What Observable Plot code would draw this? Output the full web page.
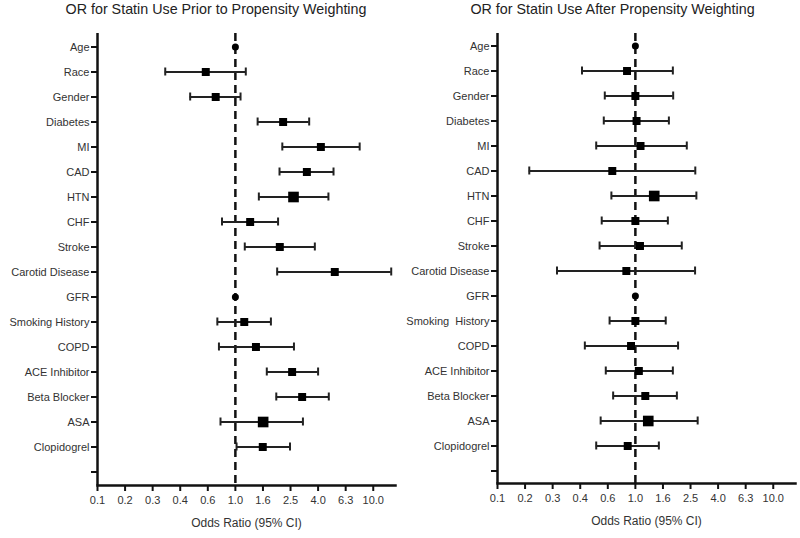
<!DOCTYPE html>
<html><head><meta charset="utf-8">
<script src="https://cdn.jsdelivr.net/npm/d3@7"></script>
<script src="https://cdn.jsdelivr.net/npm/@observablehq/plot@0.6"></script>
<style>
body{margin:0;background:#fff;font-family:"Liberation Sans",Arial,sans-serif;}
#wrap{display:flex;width:800px;height:538px;}
.panel{width:400px;height:538px;}
.title{height:20px;line-height:18px;font-size:14.3px;color:#222;text-align:center;box-sizing:border-box;white-space:nowrap;}
</style></head><body>
<div id="wrap"><div class="panel" id="p1"></div><div class="panel" id="p2"></div></div>
<script>
const categories = ["Age","Race","Gender","Diabetes","MI","CAD","HTN","CHF","Stroke","Carotid Disease","GFR","Smoking History","COPD","ACE Inhibitor","Beta Blocker","ASA","Clopidogrel"];
const categoriesAfter = ["Age","Race","Gender","Diabetes","MI","CAD","HTN","CHF","Stroke","Carotid Disease","GFR","Smoking  History","COPD","ACE Inhibitor","Beta Blocker","ASA","Clopidogrel"];

const priorOR   = [1.0, 0.61, 0.72, 2.22, 4.17, 3.30, 2.64, 1.28, 2.10, 5.26, 1.0, 1.16, 1.41, 2.58, 3.05, 1.59, 1.58];
const priorLow  = [null, 0.31, 0.47, 1.45, 2.19, 2.09, 1.48, 0.80, 1.17, 2.01, null, 0.74, 0.76, 1.69, 1.98, 0.78, 1.02];
const priorHigh = [null, 1.19, 1.09, 3.43, 7.97, 5.15, 4.73, 2.04, 3.77, 13.5, null, 1.81, 2.66, 3.98, 4.76, 3.09, 2.49];

const afterOR   = [1.0, 0.87, 1.0, 1.02, 1.09, 0.68, 1.37, 1.0, 1.08, 0.86, 1.0, 1.0, 0.93, 1.06, 1.18, 1.24, 0.88];
const afterLow  = [null, 0.41, 0.60, 0.59, 0.52, 0.17, 0.67, 0.57, 0.55, 0.27, null, 0.65, 0.43, 0.61, 0.69, 0.56, 0.52];
const afterHigh = [null, 1.87, 1.88, 1.75, 2.36, 2.72, 2.77, 1.72, 2.17, 2.71, null, 1.66, 2.04, 1.87, 2.00, 2.83, 1.48];

const tickValues = [0.1, 0.1585, 0.2512, 0.3981, 0.631, 1, 1.585, 2.512, 3.981, 6.31, 10];
const tickLabels = ["0.1","0.2","0.3","0.4","0.6","1.0","1.6","2.5","4.0","6.3","10.0"];
const largeMarkers = ["HTN","ASA"];

function panel(el, title, titlePad, cats, ors, lows, highs, mBottom) {
  const t = document.createElement("div");
  t.className = "title";
  t.style.paddingLeft = titlePad + "px";
  t.textContent = title;
  el.appendChild(t);
  const data = cats.map((c,i)=>({name:c, or:ors[i], lo:lows[i], hi:highs[i]}));
  const withCI = data.filter(d=>d.lo!=null);
  const noCI = data.filter(d=>d.lo==null);
  const big = withCI.filter(d=>largeMarkers.includes(d.name.trim()));
  const small = withCI.filter(d=>!largeMarkers.includes(d.name.trim()));
  const ink = "#111";
  const plot = Plot.plot({
    width:400, height:518, marginLeft:97, marginRight:5, marginTop:13, marginBottom:mBottom,
    style:{fontFamily:'"Liberation Sans",Arial,sans-serif', fontSize:"11px", color:"#333", background:"white"},
    x:{type:"log", domain:[0.1,14.5]},
    y:{type:"band", domain:[...cats, ""], padding:0},
    marks:[
      Plot.ruleX([1], {stroke:ink, strokeWidth:2.5, strokeDasharray:"8,5"}),
      Plot.ruleY(withCI, {y:"name", x1:"lo", x2:"hi", stroke:"#222", strokeWidth:2}),
      Plot.tickX(withCI, {y:"name", x:"lo", stroke:"#222", strokeWidth:2, insetTop:8.5, insetBottom:8.5}),
      Plot.tickX(withCI, {y:"name", x:"hi", stroke:"#222", strokeWidth:2, insetTop:8.5, insetBottom:8.5}),
      Plot.dot(small, {y:"name", x:"or", symbol:"square", fill:"#000", r:4.5}),
      Plot.dot(big, {y:"name", x:"or", symbol:"square", fill:"#000", r:6}),
      Plot.dot(noCI, {y:"name", x:"or", symbol:"circle", fill:"#000", r:3.5}),
      Plot.axisY({tickSize:6, tickPadding:2, label:null, strokeWidth:2, stroke:ink, fill:"#333"}),
      Plot.axisX({ticks:tickValues, tickSize:6, strokeWidth:2, stroke:ink, fill:"none", label:null}),
      Plot.text(tickValues, {x:d=>d, text:(d,i)=>tickLabels[i], frameAnchor:"bottom", dy:18, fill:"#333"}),
      Plot.text(["Odds Ratio (95% CI)"], {frameAnchor:"bottom", dy:41, fontSize:12, fill:"#333"}),
      Plot.ruleX([0.1], {stroke:ink, strokeWidth:2.5}),
      Plot.frame({anchor:"bottom", stroke:ink, strokeWidth:2.5})
    ]
  });
  el.appendChild(plot);
}

panel(document.getElementById("p1"), "OR for Statin Use Prior to Propensity Weighting", 32, categories, priorOR, priorLow, priorHigh, 53);
panel(document.getElementById("p2"), "OR for Statin Use After Propensity Weighting", 25, categoriesAfter, afterOR, afterLow, afterHigh, 55);
</script>
</body></html>
